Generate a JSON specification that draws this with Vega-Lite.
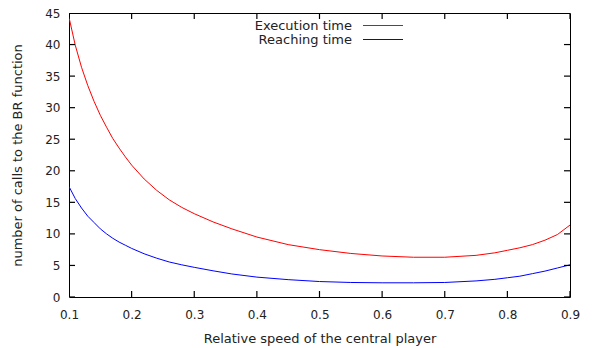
{
  "$schema": "https://vega.github.io/schema/vega-lite/v6.json",
  "width": 501,
  "height": 284,
  "autosize": {"type": "none"},
  "padding": {"left": 69, "top": 13, "right": 25, "bottom": 51},
  "background": "white",
  "config": {
    "font": "DejaVu Sans",
    "view": {"stroke": "black", "strokeWidth": 1, "strokeOpacity": 1},
    "axis": {
      "domain": false,
      "ticks": false,
      "grid": false,
      "labelFlush": false,
      "labelOverlap": false,
      "labelFont": "DejaVu Sans",
      "labelFontSize": 12,
      "labelColor": "#222",
      "titleFont": "DejaVu Sans",
      "titleFontSize": 13,
      "titleFontWeight": "normal",
      "titleColor": "#222"
    }
  },
  "datasets": {
    "xticks": [{"v": 0.1}, {"v": 0.2}, {"v": 0.3}, {"v": 0.4}, {"v": 0.5}, {"v": 0.6}, {"v": 0.7}, {"v": 0.8}, {"v": 0.9}],
    "yticks": [{"v": 0}, {"v": 5}, {"v": 10}, {"v": 15}, {"v": 20}, {"v": 25}, {"v": 30}, {"v": 35}, {"v": 40}, {"v": 45}],
    "curves": [
      {"speed": 0.10, "calls": 44.3, "series": "Execution time"},
      {"speed": 0.11, "calls": 39.9, "series": "Execution time"},
      {"speed": 0.12, "calls": 36.4, "series": "Execution time"},
      {"speed": 0.13, "calls": 33.5, "series": "Execution time"},
      {"speed": 0.14, "calls": 31.0, "series": "Execution time"},
      {"speed": 0.15, "calls": 28.8, "series": "Execution time"},
      {"speed": 0.16, "calls": 26.9, "series": "Execution time"},
      {"speed": 0.17, "calls": 25.1, "series": "Execution time"},
      {"speed": 0.18, "calls": 23.6, "series": "Execution time"},
      {"speed": 0.19, "calls": 22.2, "series": "Execution time"},
      {"speed": 0.20, "calls": 20.9, "series": "Execution time"},
      {"speed": 0.22, "calls": 18.7, "series": "Execution time"},
      {"speed": 0.24, "calls": 16.9, "series": "Execution time"},
      {"speed": 0.26, "calls": 15.4, "series": "Execution time"},
      {"speed": 0.28, "calls": 14.2, "series": "Execution time"},
      {"speed": 0.30, "calls": 13.2, "series": "Execution time"},
      {"speed": 0.33, "calls": 11.9, "series": "Execution time"},
      {"speed": 0.36, "calls": 10.8, "series": "Execution time"},
      {"speed": 0.40, "calls": 9.5, "series": "Execution time"},
      {"speed": 0.45, "calls": 8.3, "series": "Execution time"},
      {"speed": 0.50, "calls": 7.5, "series": "Execution time"},
      {"speed": 0.55, "calls": 6.9, "series": "Execution time"},
      {"speed": 0.60, "calls": 6.5, "series": "Execution time"},
      {"speed": 0.65, "calls": 6.3, "series": "Execution time"},
      {"speed": 0.70, "calls": 6.3, "series": "Execution time"},
      {"speed": 0.75, "calls": 6.6, "series": "Execution time"},
      {"speed": 0.78, "calls": 7.0, "series": "Execution time"},
      {"speed": 0.80, "calls": 7.4, "series": "Execution time"},
      {"speed": 0.82, "calls": 7.8, "series": "Execution time"},
      {"speed": 0.84, "calls": 8.3, "series": "Execution time"},
      {"speed": 0.86, "calls": 9.0, "series": "Execution time"},
      {"speed": 0.88, "calls": 9.9, "series": "Execution time"},
      {"speed": 0.90, "calls": 11.4, "series": "Execution time"},
      {"speed": 0.10, "calls": 17.5, "series": "Reaching time"},
      {"speed": 0.11, "calls": 15.6, "series": "Reaching time"},
      {"speed": 0.12, "calls": 14.1, "series": "Reaching time"},
      {"speed": 0.13, "calls": 12.8, "series": "Reaching time"},
      {"speed": 0.14, "calls": 11.8, "series": "Reaching time"},
      {"speed": 0.15, "calls": 10.8, "series": "Reaching time"},
      {"speed": 0.16, "calls": 10.0, "series": "Reaching time"},
      {"speed": 0.17, "calls": 9.3, "series": "Reaching time"},
      {"speed": 0.18, "calls": 8.7, "series": "Reaching time"},
      {"speed": 0.19, "calls": 8.2, "series": "Reaching time"},
      {"speed": 0.20, "calls": 7.7, "series": "Reaching time"},
      {"speed": 0.22, "calls": 6.85, "series": "Reaching time"},
      {"speed": 0.24, "calls": 6.15, "series": "Reaching time"},
      {"speed": 0.26, "calls": 5.55, "series": "Reaching time"},
      {"speed": 0.28, "calls": 5.1, "series": "Reaching time"},
      {"speed": 0.30, "calls": 4.7, "series": "Reaching time"},
      {"speed": 0.33, "calls": 4.15, "series": "Reaching time"},
      {"speed": 0.36, "calls": 3.65, "series": "Reaching time"},
      {"speed": 0.40, "calls": 3.15, "series": "Reaching time"},
      {"speed": 0.45, "calls": 2.75, "series": "Reaching time"},
      {"speed": 0.50, "calls": 2.45, "series": "Reaching time"},
      {"speed": 0.55, "calls": 2.3, "series": "Reaching time"},
      {"speed": 0.60, "calls": 2.25, "series": "Reaching time"},
      {"speed": 0.65, "calls": 2.25, "series": "Reaching time"},
      {"speed": 0.70, "calls": 2.3, "series": "Reaching time"},
      {"speed": 0.75, "calls": 2.55, "series": "Reaching time"},
      {"speed": 0.78, "calls": 2.8, "series": "Reaching time"},
      {"speed": 0.80, "calls": 3.05, "series": "Reaching time"},
      {"speed": 0.82, "calls": 3.3, "series": "Reaching time"},
      {"speed": 0.84, "calls": 3.7, "series": "Reaching time"},
      {"speed": 0.86, "calls": 4.1, "series": "Reaching time"},
      {"speed": 0.88, "calls": 4.6, "series": "Reaching time"},
      {"speed": 0.90, "calls": 5.1, "series": "Reaching time"}
    ]
  },
  "layer": [
    {
      "data": {"name": "curves"},
      "mark": {"type": "line", "strokeWidth": 1, "clip": true},
      "encoding": {
        "x": {"field": "speed", "type": "quantitative",
              "scale": {"domain": [0.1, 0.9], "nice": false, "zero": false},
              "axis": {"orient": "bottom", "title": "Relative speed of the central player",
                       "values": [0.1,0.2,0.3,0.4,0.5,0.6,0.7,0.8,0.9], "format": ".1f",
                       "labelPadding": 12, "titlePadding": 12}},
        "y": {"field": "calls", "type": "quantitative",
              "scale": {"domain": [0, 45], "nice": false},
              "axis": {"orient": "left", "title": "number of calls to the BR function",
                       "values": [0,5,10,15,20,25,30,35,40,45], "format": "d",
                       "labelPadding": 9, "titlePadding": 20}},
        "color": {"field": "series", "type": "nominal",
                  "scale": {"domain": ["Execution time", "Reaching time"], "range": ["#ff0000", "#0000ff"]},
                  "legend": {"title": null, "orient": "none", "legendX": 307.5, "legendY": 6,
                             "symbolType": "M-4,0H4", "symbolSize": 100, "symbolStrokeWidth": 1,
                             "symbolFillColor": "transparent",
                             "rowPadding": -1,
                             "labelFont": "DejaVu Sans", "labelFontSize": 13, "labelColor": "#222",
                             "labelAlign": "right", "labelOffset": -37.5,
                             "encode": {"symbols": {"update": {"stroke": {"scale": "color", "field": "value"}}}}}}
      }
    },
    {
      "data": {"name": "xticks"},
      "mark": {"type": "tick", "orient": "vertical", "size": 12, "thickness": 1.2, "opacity": 1, "clip": true},
      "encoding": {
        "x": {"field": "v", "type": "quantitative",
              "axis": {"orient": "bottom", "title": "Relative speed of the central player",
                       "values": [0.1,0.2,0.3,0.4,0.5,0.6,0.7,0.8,0.9], "format": ".1f",
                       "labelPadding": 12, "titlePadding": 12}},
        "y": {"datum": 0, "type": "quantitative",
              "axis": {"orient": "left", "title": "number of calls to the BR function",
                       "values": [0,5,10,15,20,25,30,35,40,45], "format": "d",
                       "labelPadding": 9, "titlePadding": 20}},
        "color": {"value": "black"}
      }
    },
    {
      "data": {"name": "xticks"},
      "mark": {"type": "tick", "orient": "vertical", "size": 12, "thickness": 1.2, "opacity": 1, "clip": true},
      "encoding": {
        "x": {"field": "v", "type": "quantitative",
              "axis": {"orient": "bottom", "title": "Relative speed of the central player",
                       "values": [0.1,0.2,0.3,0.4,0.5,0.6,0.7,0.8,0.9], "format": ".1f",
                       "labelPadding": 12, "titlePadding": 12}},
        "y": {"datum": 45, "type": "quantitative",
              "axis": {"orient": "left", "title": "number of calls to the BR function",
                       "values": [0,5,10,15,20,25,30,35,40,45], "format": "d",
                       "labelPadding": 9, "titlePadding": 20}},
        "color": {"value": "black"}
      }
    },
    {
      "data": {"name": "yticks"},
      "mark": {"type": "tick", "orient": "horizontal", "size": 12, "thickness": 1.2, "opacity": 1, "clip": true},
      "encoding": {
        "y": {"field": "v", "type": "quantitative",
              "axis": {"orient": "left", "title": "number of calls to the BR function",
                       "values": [0,5,10,15,20,25,30,35,40,45], "format": "d",
                       "labelPadding": 9, "titlePadding": 20}},
        "x": {"datum": 0.1, "type": "quantitative",
              "axis": {"orient": "bottom", "title": "Relative speed of the central player",
                       "values": [0.1,0.2,0.3,0.4,0.5,0.6,0.7,0.8,0.9], "format": ".1f",
                       "labelPadding": 12, "titlePadding": 12}},
        "color": {"value": "black"}
      }
    },
    {
      "data": {"name": "yticks"},
      "mark": {"type": "tick", "orient": "horizontal", "size": 12, "thickness": 1.2, "opacity": 1, "clip": true},
      "encoding": {
        "y": {"field": "v", "type": "quantitative",
              "axis": {"orient": "left", "title": "number of calls to the BR function",
                       "values": [0,5,10,15,20,25,30,35,40,45], "format": "d",
                       "labelPadding": 9, "titlePadding": 20}},
        "x": {"datum": 0.9, "type": "quantitative",
              "axis": {"orient": "bottom", "title": "Relative speed of the central player",
                       "values": [0.1,0.2,0.3,0.4,0.5,0.6,0.7,0.8,0.9], "format": ".1f",
                       "labelPadding": 12, "titlePadding": 12}},
        "color": {"value": "black"}
      }
    }
  ]
}
